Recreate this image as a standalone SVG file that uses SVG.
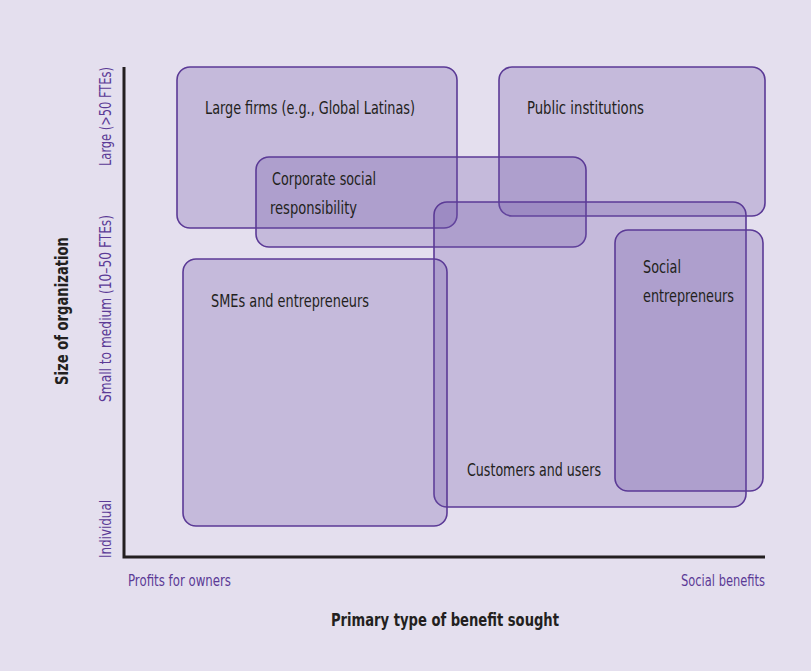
<svg xmlns="http://www.w3.org/2000/svg" width="811" height="671" viewBox="0 0 811 671">
<style>
.box{fill:#6d51a5;fill-opacity:0.26;stroke:#5b3a96;stroke-width:1.6}
.lbl{font-family:"Liberation Sans Narrow","DejaVu Sans Condensed","Liberation Sans",sans-serif;font-stretch:condensed;font-size:18.5px;fill:#231f20}
.tick{font-family:"Liberation Sans Narrow","DejaVu Sans Condensed","Liberation Sans",sans-serif;font-stretch:condensed;font-size:15px;fill:#5b3a96}
.ttl{font-family:"Liberation Sans Narrow","DejaVu Sans Condensed","Liberation Sans",sans-serif;font-stretch:condensed;font-size:17px;font-weight:bold;fill:#231f20}
.axis{stroke:#231f20;stroke-width:3;fill:none}
</style>
<rect x="0" y="0" width="811" height="671" fill="#e4dfee"/>
<g id="axes">
<path class="axis" d="M124 67 V557 H765"/>
<text class="tick" transform="translate(111,166) rotate(-90)" textLength="99" lengthAdjust="spacingAndGlyphs">Large (&gt;50 FTEs)</text>
<text class="tick" transform="translate(111,402) rotate(-90)" textLength="187" lengthAdjust="spacingAndGlyphs">Small to medium (10–50 FTEs)</text>
<text class="tick" transform="translate(111,558) rotate(-90)" textLength="58" lengthAdjust="spacingAndGlyphs">Individual</text>
<text class="ttl" transform="translate(68,385) rotate(-90)" textLength="148" lengthAdjust="spacingAndGlyphs">Size of organization</text>
<text class="tick" x="128" y="586" textLength="103" lengthAdjust="spacingAndGlyphs">Profits for owners</text>
<text class="tick" x="681" y="586" textLength="84" lengthAdjust="spacingAndGlyphs">Social benefits</text>
<text class="ttl" x="331" y="626" textLength="228" lengthAdjust="spacingAndGlyphs">Primary type of benefit sought</text>
</g>
<g id="large-firms">
<rect class="box" x="177" y="67" width="280" height="161" rx="13"/>
<text class="lbl" x="205" y="114" textLength="210" lengthAdjust="spacingAndGlyphs">Large firms (e.g., Global Latinas)</text>
</g>
<g id="public-institutions">
<rect class="box" x="499" y="67" width="266" height="149" rx="13"/>
<text class="lbl" x="527" y="114" textLength="117" lengthAdjust="spacingAndGlyphs">Public institutions</text>
</g>
<g id="corporate-social-responsibility">
<rect class="box" x="256" y="157" width="330" height="90" rx="13"/>
<text class="lbl" x="272" y="185" textLength="104" lengthAdjust="spacingAndGlyphs">Corporate social</text>
<text class="lbl" x="270" y="214" textLength="87" lengthAdjust="spacingAndGlyphs">responsibility</text>
</g>
<g id="customers-and-users">
<rect class="box" x="434" y="202" width="312" height="305" rx="13"/>
<text class="lbl" x="467" y="476" textLength="134" lengthAdjust="spacingAndGlyphs">Customers and users</text>
</g>
<g id="smes-and-entrepreneurs">
<rect class="box" x="183" y="259" width="264" height="267" rx="13"/>
<text class="lbl" x="211" y="307" textLength="158" lengthAdjust="spacingAndGlyphs">SMEs and entrepreneurs</text>
</g>
<g id="social-entrepreneurs">
<rect class="box" x="615" y="230" width="148" height="261" rx="13"/>
<text class="lbl" x="643" y="273" textLength="38" lengthAdjust="spacingAndGlyphs">Social</text>
<text class="lbl" x="643" y="302" textLength="91" lengthAdjust="spacingAndGlyphs">entrepreneurs</text>
</g>
</svg>
